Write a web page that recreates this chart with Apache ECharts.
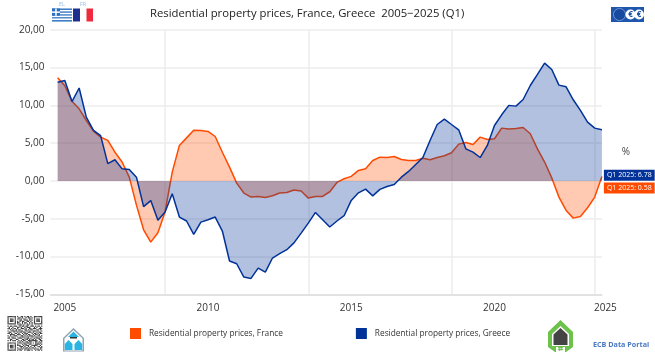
<!DOCTYPE html>
<html><head><meta charset="utf-8">
<style>html,body{margin:0;padding:0;background:#fff}#c{width:655px;height:352px}</style>
<script src="https://cdn.jsdelivr.net/npm/echarts@6/dist/echarts.min.js"></script>
</head><body><div id="c"></div>
<script>
var franceValues=[13.65,12.6,10.55,9.55,8.0,6.6,5.8,5.36,3.8,2.5,0.5,-3.2,-6.46,-8.1,-6.86,-4.1,1.17,4.7,5.7,6.72,6.68,6.55,5.88,3.8,1.83,-0.29,-1.6,-2.14,-2.05,-2.2,-1.96,-1.6,-1.52,-1.2,-1.34,-2.27,-2.05,-2.05,-1.43,-0.2,0.29,0.6,1.39,1.6,2.7,3.15,3.1,3.24,2.84,2.7,2.7,3.0,2.8,3.1,3.33,3.73,4.87,5.09,4.83,5.8,5.49,5.58,6.99,6.86,6.94,7.08,6.24,4.25,2.5,0.4,-2.14,-3.9,-4.92,-4.7,-3.55,-2.14,0.58];
var greeceValues=[13.07,13.3,10.5,12.3,8.45,6.7,6.0,2.3,2.8,1.6,1.5,0.5,-3.4,-2.6,-5.2,-4.1,-1.7,-4.78,-5.3,-7.08,-5.45,-5.14,-4.78,-6.63,-10.6,-10.96,-12.72,-12.9,-11.53,-12.06,-10.2,-9.63,-9.1,-8.2,-6.9,-5.58,-4.17,-5.14,-6.1,-5.3,-4.6,-2.58,-1.57,-1.08,-1.97,-1.12,-0.73,-0.46,0.5,1.26,2.18,3.1,5.36,7.47,8.18,7.47,6.77,4.25,3.81,3.1,4.7,7.34,8.75,10.0,9.9,10.78,12.63,14.09,15.59,14.75,12.68,12.46,10.74,9.33,7.78,6.99,6.78];
var tickLabels=['2005','2010','2015','2020','2025'];
var tickLabelSlots=[2,22,42,62,77];
var gridSlots=[16,36,56,76];
var yTicks=[-15,20];
var seriesNames=['Residential property prices, France','Residential property prices, Greece'];
var lastLabels=['Q1 2025: 0.58','Q1 2025: 6.78'];
var titleText='Residential property prices, France, Greece  2005\u22122025 (Q1)';
var orange='#ff4b00',blue='#003299',font='"Open Sans"';

var categories=[];
for(var i=0;i<78;i++){var p=tickLabelSlots.indexOf(i);categories.push(p>=0?tickLabels[p]:'q'+i);}

var qrRows=[
'11111110100110101101001111111',
'10000010011010010110101000001',
'10111010110101100011001011101',
'10111010001100111010101011101',
'10111010101011001101001011101',
'10000010110010110010101000001',
'11111110101010101010101111111',
'00000000011101001100100000000',
'10110111001011011001110101101',
'01001000110100101110001010010',
'11010110100111010011011100111',
'00101001011000110101100011010',
'10011111010110011010011101001',
'01100100101101100111010010110',
'11010011010010111000101101011',
'00111100111001010110010110100',
'10100111000110101011101001101',
'01011000101011010100110110010',
'11001110011100101101001011101',
'00110001100011011010110100110',
'10101110010101100111111110011',
'00000000101010011011000110101',
'11111110011101101101010101010',
'10000010100010110011000111101',
'10111010111001011100111110010',
'10111010001110100101001001101',
'10111010100101011010110100011',
'10000010011010110101001011010',
'11111110101100101110100101101'];
var g=[];
function rect(x,y,w,h,c,o){g.push({type:'rect',silent:true,shape:{x:x,y:y,width:w,height:h},style:{fill:c,opacity:o==null?1:o}});}
function txt(x,y,t,size,c,w,a){g.push({type:'text',silent:true,x:x,y:y,style:{text:t,font:(w||400)+' '+size+'px '+font,fill:c,textAlign:a||'left',textVerticalAlign:'middle'}});}
function poly(pts,c,o){g.push({type:'polygon',silent:true,shape:{points:pts},style:{fill:c,opacity:o==null?1:o}});}
function circ(x,y,r,c,st,lw){g.push({type:'circle',silent:true,shape:{cx:x,cy:y,r:r},style:{fill:c,stroke:st||null,lineWidth:lw||0}});}

// QR code
qrRows.forEach(function(row,r){for(var k=0;k<row.length;k++){if(row[k]==='1')rect(7.5+k*1.2,316+r*1.2,1.2,1.2,'#222',0.9);}});
// flags
for(var s=0;s<9;s++)rect(52,8.5+s*1.45,20,1.45,s%2?'#fff':'#2a6fc0');
rect(52,8.5,8,7.2,'#2a6fc0');rect(55.2,8.5,1.5,7.2,'#fff');rect(52,11.4,8,1.5,'#fff');
rect(73,8.5,7,13,'#1f2f8f');rect(80,8.5,7,13,'#fff');rect(86.5,8.5,6.5,13,'#ee2a3c');
txt(62,4.5,'EL',5.5,'#9cc0e4',400,'center');txt(83,4.5,'FR',5.5,'#9cc0e4',400,'center');
// ECB logo
rect(611,7,33,15,'#1f56ad');
circ(619.5,14.5,6,'#174a9e','#6f94cf',1);
circ(630.5,14.5,5,'#fff');circ(639,14.5,5,'#fff');
txt(630.5,14.5,'\u20ac',8,'#1f56ad',700,'center');txt(639,14.5,'\u20ac',8,'#1f56ad',700,'center');
// blue house
poly([[73.5,328],[84,338],[84,351.5],[63,351.5],[63,338]],'#8fa3b0');
poly([[73.5,330],[82.5,338.5],[82.5,350.5],[64.5,350.5],[64.5,338.5]],'#fff');
poly([[73.5,331.5],[79,337],[68,337]],'#29b4e3');rect(70,337,7,1.5,'#333');
poly([[68.5,340],[72.5,344],[72.5,350],[64.8,350],[64.8,344]],'#29b4e3');
poly([[78.5,340],[82.2,344],[82.2,350],[74.5,350],[74.5,344]],'#29b4e3');
// green house
poly([[560.5,320],[573,332],[573,347],[566,352],[555,352],[548,347],[548,332]],'#6cc24a');
poly([[560.5,326],[569,334],[569,346],[552,346],[552,334]],'#fff');
poly([[560.5,328],[567.5,334.5],[567.5,345],[553.5,345],[553.5,334.5]],'#444');
rect(556,347,9,5,'#fff');txt(560.5,349.5,'\u21c4',6,'#6cc24a',700,'center');
// misc text
txt(593,345,'ECB Data Portal',7.2,'#4a78c2',700);
txt(626,152,'%',10,'#444',400,'center');

var chart=echarts.init(document.getElementById('c'),null,{renderer:'canvas'});
function makeSeries(name,vals,color,z,label,offY){
  return {name:name,type:'line',data:[null].concat(vals),z:z,symbol:'none',showSymbol:false,smooth:false,
    itemStyle:{color:color},lineStyle:{color:color,width:1.5},
    areaStyle:{color:color,opacity:0.3,origin:0},
    endLabel:{show:true,formatter:function(){return label;},color:'#fff',backgroundColor:color,
      fontFamily:font,fontSize:7,padding:[2.5,3,1.5,3],offset:[0,offY],distance:2}};
}
chart.setOption({
  animation:false,
  backgroundColor:'#fff',
  textStyle:{fontFamily:font},
  title:{text:titleText,left:150,top:8,padding:0,textStyle:{fontFamily:font,fontSize:11.3,fontWeight:500,color:'#222'}},
  grid:{left:50.5,right:53.1,top:29.8,bottom:57.7,containLabel:false},
  legend:{left:130,top:328,padding:0,itemWidth:11,itemHeight:11,itemGap:73,icon:'rect',
    data:seriesNames,selectedMode:false,
    textStyle:{fontFamily:font,fontSize:8.3,color:'#333',padding:[1,0,0,3]}},
  xAxis:{type:'category',boundaryGap:false,data:categories,
    axisLine:{show:true,onZero:false,lineStyle:{color:'#ddd',width:1.5}},axisTick:{show:false},
    splitLine:{show:true,interval:function(i){return gridSlots.indexOf(i)>=0;},lineStyle:{color:'#ececec',width:1.5}},
    axisLabel:{color:'#333',fontSize:10,fontFamily:font,margin:9,showMinLabel:true,showMaxLabel:true,hideOverlap:false,
      interval:function(i){return tickLabelSlots.indexOf(i)>=0;},
      formatter:function(v){return v==='2025'?'{a|2025}':v;},
      rich:{a:{fontSize:10,fontFamily:font,color:'#333',padding:[0,0,0,7]}}}},
  yAxis:{type:'value',min:yTicks[0],max:yTicks[1],interval:5,
    axisLine:{show:false},axisTick:{show:false},
    splitLine:{lineStyle:{color:'#ececec',width:1.5}},
    axisLabel:{color:'#333',fontSize:10,fontFamily:font,margin:6,
      formatter:function(v){return v.toFixed(2).replace('.',',');}}},
  series:[
    makeSeries(seriesNames[0],franceValues,orange,3,lastLabels[0],11.5),
    makeSeries(seriesNames[1],greeceValues,blue,4,lastLabels[1],45.5)
  ],
  graphic:g
});
</script></body></html>
